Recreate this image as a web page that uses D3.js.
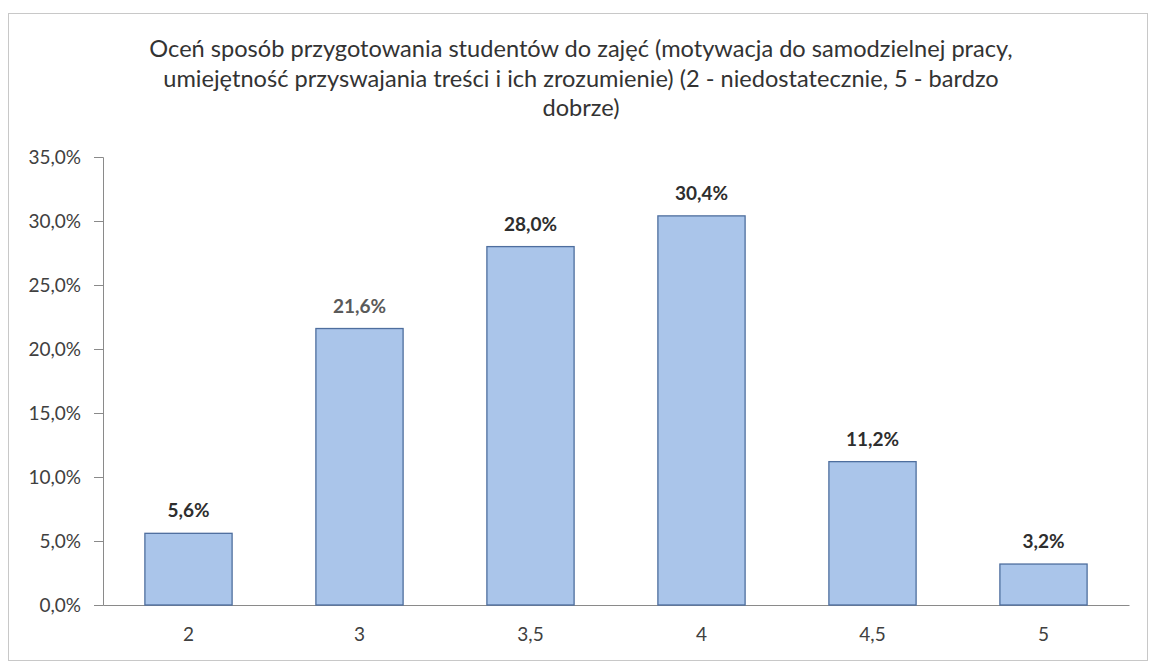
<!DOCTYPE html>
<html>
<head>
<meta charset="utf-8">
<script src="https://cdn.jsdelivr.net/npm/d3@7"></script>
<style>
  body { margin: 0; background: #fff; }
  svg { display: block; font-family: Lato, "Open Sans", sans-serif; }
</style>
</head>
<body>
<div class="chart"></div>
<script>
// data
const categories = ["2", "3", "3,5", "4", "4,5", "5"];
const values = [5.6, 21.6, 28.0, 30.4, 11.2, 3.2];
const yTicks = [0, 5, 10, 15, 20, 25, 30, 35];
const titleLines = [
  "Oceń sposób przygotowania studentów do zajęć (motywacja do samodzielnej pracy,",
  "umiejętność przyswajania treści i ich zrozumienie) (2 - niedostatecznie, 5 - bardzo",
  "dobrze)"
];

const W = 1151, H = 662;
const margin = {top: 157, right: 22, bottom: 57, left: 103};

const svg = d3.select(".chart").append("svg")
    .attr("width", W)
    .attr("height", H);

// outer frame
svg.append("rect")
    .attr("x", 8.5).attr("y", 13.5)
    .attr("width", 1139).attr("height", 647)
    .attr("fill", "none")
    .attr("stroke", "#c8c8c8");

// title
svg.append("text")
    .attr("text-anchor", "middle")
    .attr("fill", "#333")
    .style("font-size", "23.6px")
  .selectAll("tspan")
  .data(titleLines)
  .enter().append("tspan")
    .attr("x", 581)
    .attr("y", (d, i) => 57 + i * 29.5)
    .text(d => d);

const x = d3.scaleBand()
    .domain(categories)
    .range([margin.left, W - margin.right])
    .paddingInner(0.49)
    .paddingOuter(0.245);

const y = d3.scaleLinear()
    .domain([0, 35])
    .range([H - margin.bottom, margin.top]);

const fmt = v => d3.format(".1f")(v).replace(".", ",") + "%";

// y axis
const yAxis = svg.append("g")
    .attr("transform", "translate(" + margin.left + ",0)")
    .call(d3.axisLeft(y).tickValues(yTicks).tickSize(9).tickPadding(13).tickFormat(fmt));
yAxis.select(".domain").attr("stroke", "#8a8a8a");
yAxis.selectAll(".tick line").attr("stroke", "#8a8a8a");
yAxis.selectAll("text")
    .attr("fill", "#404040")
    .style("font-size", "19px")
    .style("font-family", "Lato, sans-serif");

// x axis
const xAxis = svg.append("g")
    .attr("transform", "translate(0," + y(0) + ")")
    .call(d3.axisBottom(x).tickSize(0).tickPadding(23));
xAxis.select(".domain").attr("stroke", "#8a8a8a");
xAxis.selectAll("text")
    .attr("fill", "#404040")
    .style("font-size", "19px")
    .style("font-family", "Lato, sans-serif");

// bars
svg.selectAll(".bar")
    .data(values)
  .enter().append("rect")
    .attr("class", "bar")
    .attr("x", (d, i) => x(categories[i]))
    .attr("y", d => y(d))
    .attr("width", x.bandwidth())
    .attr("height", d => y(0) - y(d))
    .attr("fill", "#aac5ea")
    .attr("stroke", "#4e6e9e")
    .attr("stroke-width", 1.3);

// value labels
svg.selectAll(".lbl")
    .data(values)
  .enter().append("text")
    .attr("class", "lbl")
    .attr("x", (d, i) => x(categories[i]) + x.bandwidth() / 2)
    .attr("y", d => y(d) - 16)
    .attr("text-anchor", "middle")
    .attr("fill", (d, i) => i === 1 ? "#5a5a5a" : "#2e2e2e")
    .style("font-size", "19px")
    .style("font-weight", "bold")
    .text(fmt);
</script>
</body>
</html>
